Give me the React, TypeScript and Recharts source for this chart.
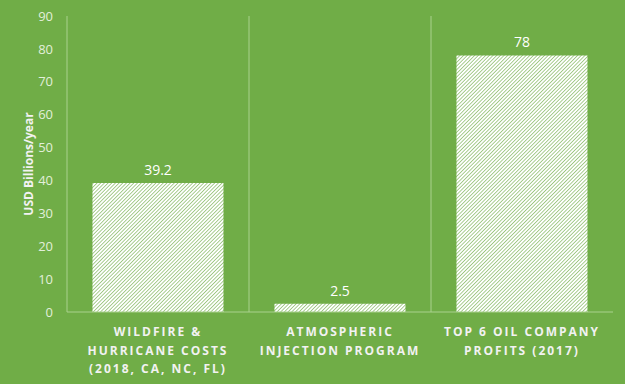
import { BarChart, Bar, XAxis, YAxis, CartesianGrid, LabelList } from 'recharts'

const categories = [
  'WILDFIRE &\nHURRICANE COSTS\n(2018, CA, NC, FL)',
  'ATMOSPHERIC\nINJECTION PROGRAM',
  'TOP 6 OIL COMPANY\nPROFITS (2017)',
]
const values = [39.2, 2.5, 78]
const yTicks = [0, 10, 20, 30, 40, 50, 60, 70, 80, 90]

const data = categories.map((name, i) => ({ name, value: values[i] }))

const BG = '#70AD47'
const LINE = '#A9D18E'
const FONT = 'Open Sans, sans-serif'

function CategoryTick(props: any) {
  const { x, y, payload } = props
  const lines = String(payload.value).split('\n')
  return (
    <text
      x={x}
      y={y}
      textAnchor="middle"
      fill="#F2F2F2"
      fontFamily={FONT}
      fontWeight={700}
      fontSize={12}
      letterSpacing={2}
    >
      {lines.map((l, i) => (
        <tspan key={i} x={x} dy={i === 0 ? 16 : 18.5}>
          {l}
        </tspan>
      ))}
    </text>
  )
}

export default function App() {
  return (
    <div style={{ position: 'absolute', left: 0, top: 0, width: 625, height: 384, background: BG }}>
      <svg width={0} height={0} style={{ position: 'absolute' }}>
        <defs>
          <pattern
            id="stripes"
            width={2.6}
            height={2.6}
            patternUnits="userSpaceOnUse"
            patternTransform="rotate(45)"
          >
            <rect width={2.6} height={2.6} fill="#ffffff" />
            <line x1={0} y1={0} x2={0} y2={2.6} stroke={BG} strokeWidth={1.2} />
          </pattern>
        </defs>
      </svg>
      <BarChart
        width={625}
        height={384}
        data={data}
        margin={{ top: 16, right: 12, bottom: 0, left: 0 }}
        barCategoryGap="14%"
      >
        <CartesianGrid
          horizontal={false}
          stroke={LINE}
          verticalCoordinatesGenerator={({ offset }: any) => [
            offset.left + offset.width / 3,
            offset.left + (2 * offset.width) / 3,
          ]}
        />
        <XAxis
          dataKey="name"
          height={72}
          interval={0}
          axisLine={{ stroke: LINE }}
          tickLine={false}
          tick={<CategoryTick />}
        />
        <YAxis
          width={67}
          domain={[0, 90]}
          ticks={yTicks}
          interval={0}
          axisLine={{ stroke: LINE }}
          tickLine={false}
          tickMargin={8}
          tick={{ fill: '#E2EFDA', fontSize: 13, fontFamily: FONT }}
          label={{
            value: 'USD Billions/year',
            angle: -90,
            position: 'insideLeft',
            offset: 29,
            style: { fill: '#F2F2F2', fontSize: 12, fontWeight: 700, fontFamily: FONT, textAnchor: 'middle' },
          }}
        />
        <Bar dataKey="value" fill="url(#stripes)" isAnimationActive={false}>
          <LabelList
            dataKey="value"
            position="top"
            offset={8}
            fill="#FFFFFF"
            fontSize={14}
            fontFamily={FONT}
          />
        </Bar>
      </BarChart>
    </div>
  )
}
